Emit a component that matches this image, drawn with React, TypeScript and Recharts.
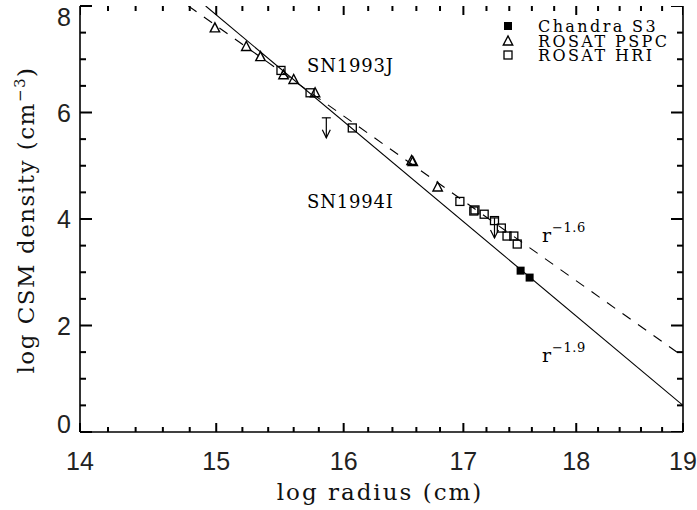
import React from "react";
import { ScatterChart, Scatter, XAxis, YAxis } from "recharts";

// log radius / log density values
const chandraX = [17.5, 17.58];
const chandraY = [3.03, 2.9];

const pspcX = [14.99, 15.23, 15.34, 15.52, 15.6, 15.77, 16.56, 16.57, 16.78];
const pspcY = [7.59, 7.24, 7.05, 6.71, 6.62, 6.37, 5.1, 5.08, 4.6];

const hriX = [15.5, 15.73, 16.07, 16.97, 17.09, 17.1, 17.18, 17.27, 17.33, 17.38, 17.44, 17.47];
const hriY = [6.79, 6.37, 5.71, 4.33, 4.15, 4.17, 4.09, 3.97, 3.83, 3.68, 3.68, 3.53];

const limitX = [15.86, 17.27];
const limitY = [5.9, 4.02];

// power-law fits (endpoints)
const fit19X = [14.92, 19];
const fit19Y = [8, 0.5];
const fit16X = [14.79, 19];
const fit16Y = [8, 1.42];

const xTicks = [
  14, 14.2, 14.4, 14.6, 14.8, 15, 15.2, 15.4, 15.6, 15.8, 16, 16.2, 16.4, 16.6, 16.8,
  17, 17.2, 17.4, 17.6, 17.8, 18, 18.2, 18.4, 18.6, 18.8, 19,
];
const xMajor = [14, 15, 16, 17, 18, 19];
const yTicks = [0, 0.5, 1, 1.5, 2, 2.5, 3, 3.5, 4, 4.5, 5, 5.5, 6, 6.5, 7, 7.5, 8];
const yMajor = [0, 2, 4, 6, 8];

const zip = (xs: number[], ys: number[]) => xs.map((x, i) => ({ x, y: ys[i] }));

// tick marks on the top and right frame, placed through the chart scales
const topMarks = xTicks.map((x) => ({ x, y: 8, major: xMajor.includes(x) }));
const rightMarks = yTicks.map((y) => ({ x: 19, y, major: yMajor.includes(y) }));

const numFont = "'Liberation Sans', sans-serif";
const textFont = "'DejaVu Serif', serif";
const INK = "#000";
const TW = 2;

const XMark = (p: any) => {
  const len = p.payload.major ? 9 : 5;
  return <rect x={p.cx - TW / 2} y={p.cy} width={TW} height={len} fill={INK} />;
};
const YMark = (p: any) => {
  const len = p.payload.major ? 12 : 6;
  return <rect x={p.cx - len} y={p.cy - TW / 2} width={len} height={TW} fill={INK} />;
};

const xTick = (props: any) => {
  const { x, y, payload } = props;
  const major = xMajor.includes(payload.value);
  const len = major ? 9 : 5;
  return (
    <g>
      <rect x={x - TW / 2} y={y - len} width={TW} height={len} fill={INK} />
      {major && (
        <text x={x} y={y + 38} textAnchor="middle" fontFamily={numFont} fontSize={25} fill="#222">
          {payload.value}
        </text>
      )}
    </g>
  );
};

const yTick = (props: any) => {
  const { x, y, payload } = props;
  const v = payload.value;
  const major = yMajor.includes(v);
  const len = major ? 12 : 6;
  // centred on the tick, pulled inside at the ends of the axis
  const dy = v === 0 ? 1 : v === 8 ? 20 : 9;
  return (
    <g>
      <rect x={x} y={y - TW / 2} width={len} height={TW} fill={INK} />
      {major && (
        <text x={x - 9} y={y + dy} textAnchor="end" fontFamily={numFont} fontSize={25} fill="#222">
          {v}
        </text>
      )}
    </g>
  );
};

const Triangle = (p: any) => (
  <path
    d={`M${p.cx - 4.7},${p.cy + 4} L${p.cx + 4.7},${p.cy + 4} L${p.cx},${p.cy - 5} Z`}
    fill="none"
    stroke={INK}
    strokeWidth={1.4}
  />
);
const OpenSquare = (p: any) => (
  <rect x={p.cx - 4} y={p.cy - 4} width={8} height={8} fill="none" stroke={INK} strokeWidth={1.3} />
);
const FilledSquare = (p: any) => (
  <rect x={p.cx - 4} y={p.cy - 4} width={8} height={8} fill={INK} />
);
const UpperLimit = (p: any) => (
  <g stroke={INK} strokeWidth={1.2} fill="none">
    <path d={`M${p.cx - 4.5},${p.cy} L${p.cx + 4.5},${p.cy}`} />
    <path d={`M${p.cx},${p.cy} L${p.cx},${p.cy + 20}`} />
    <path d={`M${p.cx - 4},${p.cy + 12} L${p.cx},${p.cy + 20} L${p.cx + 4},${p.cy + 12}`} />
  </g>
);
const NoDot = () => null;

const Legend = () => (
  <g fontFamily={textFont} fontSize={16} fill="#000" letterSpacing={2.4}>
    <rect x={504} y={22} width={8} height={8} fill={INK} />
    <text x={538} y={32}>Chandra S3</text>
    <path d="M503.3,45 L512.7,45 L508,36 Z" fill="none" stroke={INK} strokeWidth={1.4} />
    <text x={538} y={47}>ROSAT PSPC</text>
    <rect x={504} y={51} width={8} height={8} fill="none" stroke={INK} strokeWidth={1.3} />
    <text x={538} y={61}>ROSAT HRI</text>
  </g>
);

const axisLine = { stroke: INK, strokeWidth: 1.6 };

export default function App() {
  return (
    <div style={{ position: "absolute", left: 0, top: 0, width: 697, height: 510, background: "#fff" }}>
      {/* annotations sit underneath the chart layer */}
      <svg width={697} height={510} style={{ position: "absolute", left: 0, top: 0 }}>
        <Legend />
        <g fontFamily={textFont} fontSize={18} fill="#000" letterSpacing={0.8}>
          <text x={307} y={72}>SN1993J</text>
          <text x={307} y={208}>SN1994I</text>
        </g>
        <g fontFamily={textFont} fill="#000">
          <text x={542} y={242} fontSize={19}>
            r<tspan dx={1} dy={-10} fontSize={13} letterSpacing={0.5}>−1.6</tspan>
          </text>
          <text x={542} y={362} fontSize={19}>
            r<tspan dx={1} dy={-10} fontSize={13} letterSpacing={0.5}>−1.9</tspan>
          </text>
        </g>
        <text
          x={380}
          y={500}
          textAnchor="middle"
          fontFamily={textFont}
          fontSize={23}
          letterSpacing={2}
          fill="#111"
        >
          log radius (cm)
        </text>
        <text
          transform="translate(34,220) rotate(-90)"
          textAnchor="middle"
          fontFamily={textFont}
          fontSize={23}
          letterSpacing={1.5}
          fill="#111"
        >
          log CSM density (cm<tspan dy={-9} fontSize={15}>−3</tspan>
          <tspan dy={9}>)</tspan>
        </text>
      </svg>
      <div style={{ position: "absolute", left: 0, top: 0 }}>
        <ScatterChart width={697} height={510} margin={{ top: 6, right: 0, bottom: 0, left: 0 }}>
          <XAxis
            dataKey="x"
            type="number"
            scale="log"
            domain={[14, 19]}
            allowDataOverflow
            ticks={xTicks}
            interval={0}
            height={78}
            tickSize={0}
            tickMargin={0}
            tickLine={false}
            axisLine={axisLine}
            tick={xTick}
          />
          <XAxis
            xAxisId="top"
            orientation="top"
            type="number"
            scale="log"
            domain={[14, 19]}
            allowDataOverflow
            height={0}
            tick={false}
            tickLine={false}
            axisLine={axisLine}
          />
          <YAxis
            dataKey="y"
            type="number"
            domain={[0, 8]}
            allowDataOverflow
            ticks={yTicks}
            interval={0}
            width={80}
            tickSize={0}
            tickMargin={0}
            tickLine={false}
            axisLine={axisLine}
            tick={yTick}
          />
          <YAxis
            yAxisId="right"
            orientation="right"
            type="number"
            domain={[0, 8]}
            allowDataOverflow
            width={14}
            tick={false}
            tickLine={false}
            axisLine={axisLine}
          />
          <Scatter data={topMarks} shape={XMark} isAnimationActive={false} />
          <Scatter data={rightMarks} shape={YMark} isAnimationActive={false} />
          <Scatter
            data={zip(fit19X, fit19Y)}
            line={{ stroke: INK, strokeWidth: 1.1 }}
            shape={<NoDot />}
            isAnimationActive={false}
          />
          <Scatter
            data={zip(fit16X, fit16Y)}
            line={{ stroke: INK, strokeWidth: 1.1, strokeDasharray: "10 9" }}
            shape={<NoDot />}
            isAnimationActive={false}
          />
          <Scatter data={zip(pspcX, pspcY)} shape={<Triangle />} isAnimationActive={false} />
          <Scatter data={zip(hriX, hriY)} shape={<OpenSquare />} isAnimationActive={false} />
          <Scatter data={zip(chandraX, chandraY)} shape={<FilledSquare />} isAnimationActive={false} />
          <Scatter data={zip(limitX, limitY)} shape={<UpperLimit />} isAnimationActive={false} />
        </ScatterChart>
      </div>
    </div>
  );
}
